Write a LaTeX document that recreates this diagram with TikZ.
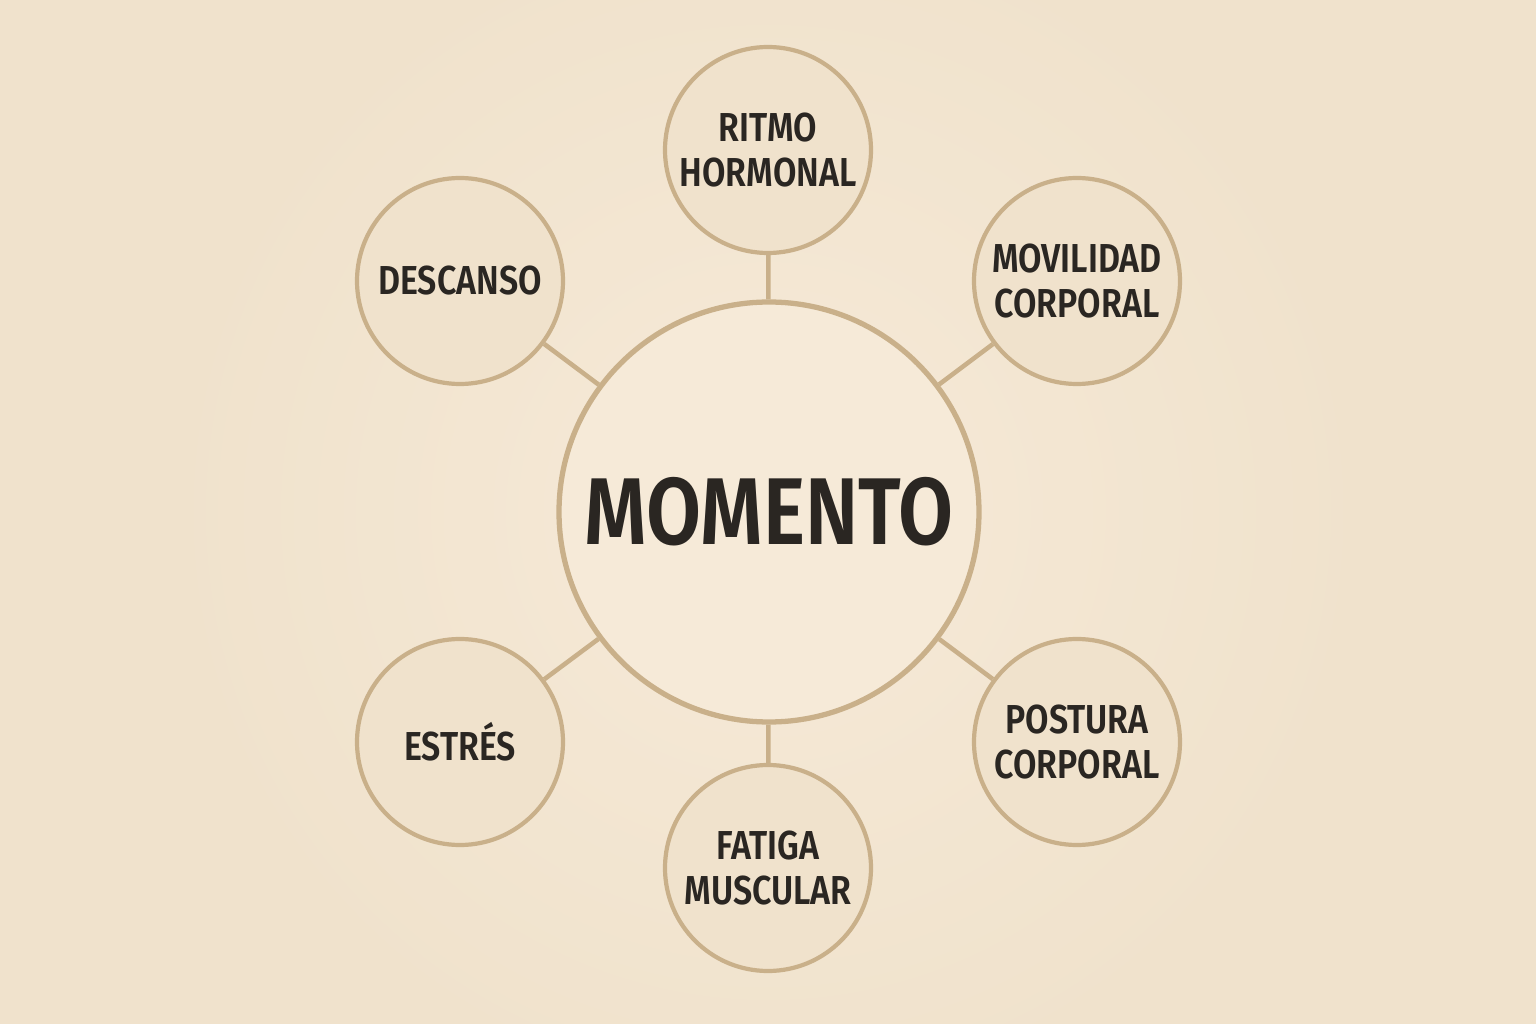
\documentclass[tikz,border=0pt]{standalone}
\usepackage{fontspec}
\setmainfont{Fira Sans}[FakeStretch=0.84,BoldFont={Fira Sans SemiBold}]
\usepackage{tikz}
\definecolor{paper}{HTML}{F0E2CC}
\definecolor{hub}{HTML}{F6EAD8}
\definecolor{rim}{HTML}{C9B08A}
\definecolor{ink}{HTML}{2A2622}
\tikzset{
  hubnode/.style={circle,draw=rim,line width=1.5pt,fill=hub,minimum size=42mm,inner sep=0pt,
    text=ink,font=\fontsize{27}{30}\selectfont\bfseries},
  topic/.style={circle,draw=rim,line width=1.2pt,fill=paper,minimum size=20.6mm,inner sep=0pt,
    align=center,text=ink,font=\fontsize{11.5}{12.6}\selectfont\bfseries},
  link/.style={draw=rim,line width=1.3pt}
}
\begin{document}
\begin{tikzpicture}[x=0.1mm,y=-0.1mm]
            % Background
            \useasboundingbox (0,0) rectangle (1536,1024);
            \clip (0,0) rectangle (1536,1024);
            \fill[paper] (0,0) rectangle (1536,1024);
            \shade[inner color=hub,outer color=paper,draw=none] (768,512) circle (600);

            % Nodes
            \node[hubnode] (mom) at (769,512) {MOMENTO};
            \node[topic] (ritmo) at (768,150) {RITMO\\HORMONAL};
            \node[topic] (movil) at (1077,281) {MOVILIDAD\\CORPORAL};
            \node[topic] (desc) at (460,281) {DESCANSO};
            \node[topic] (estres) at (460,742) {ESTRÉS};
            \node[topic] (post) at (1077,742) {POSTURA\\CORPORAL};
            \node[topic] (fatiga) at (768,868) {FATIGA\\MUSCULAR};

            % Connectors
            \foreach \t in {ritmo,movil,desc,estres,post,fatiga}
              \draw[link] (mom) -- (\t);
        \end{tikzpicture}
\end{document}
